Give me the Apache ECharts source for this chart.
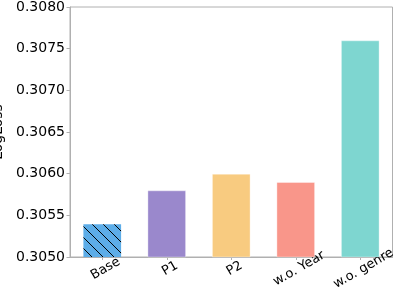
<!DOCTYPE html>
<html>
<head>
<meta charset="utf-8">
<script src="https://cdn.jsdelivr.net/npm/echarts@6/dist/echarts.min.js"></script>
<style>
html,body{margin:0;padding:0;background:#fff;}
#chart{width:395px;height:308px;}
</style>
</head>
<body>
<div id="chart"></div>
<script>
const categories = ['Base', 'P1', 'P2', 'w.o. Year', 'w.o. genre'];
const logLoss = [0.3054, 0.3058, 0.3060, 0.3059, 0.3076];
const barColors = ['#5DADE8', '#9A88CC', '#F8CB80', '#F9968A', '#7ED6D0'];
const yTicks = ['0.3050', '0.3055', '0.3060', '0.3065', '0.3070', '0.3075', '0.3080'];

const font = 'DejaVu Sans';
const fs = 14;

function hatch(base) {
  const s = 11;
  const c = document.createElement('canvas');
  c.width = s; c.height = s;
  const g = c.getContext('2d');
  g.fillStyle = base;
  g.fillRect(0, 0, s, s);
  g.strokeStyle = '#000';
  g.lineWidth = 1;
  g.beginPath();
  g.moveTo(-2, -2); g.lineTo(s + 2, s + 2);
  g.moveTo(-2, s - 2); g.lineTo(2, s + 2);
  g.moveTo(s - 2, -2); g.lineTo(s + 2, 2);
  g.stroke();
  return c;
}

const chart = echarts.init(document.getElementById('chart'), null, {renderer: 'canvas'});
chart.setOption({
  animation: false,
  grid: {left: 70, right: 2.5, top: 7, bottom: 51, show: true, borderColor: '#b0b0b0', borderWidth: 1,
    backgroundColor: 'transparent',
    outerBounds: {left: -300, right: -300, top: -300, bottom: -300}},
  xAxis: {
    type: 'category',
    data: categories,
    axisLine: {lineStyle: {color: '#b0b0b0'}},
    axisTick: {show: true, alignWithLabel: true, length: 3, lineStyle: {color: '#b0b0b0'}},
    axisLabel: {rotate: 30, fontFamily: font, fontSize: 13, color: '#000', margin: 6,
      align: 'center', verticalAlign: 'top', interval: 0}
  },
  yAxis: {
    type: 'value',
    min: 0.3050, max: 0.3080, interval: 0.0005,
    name: 'LogLoss',
    nameLocation: 'middle',
    nameGap: 56,
    nameTextStyle: {fontFamily: font, fontSize: fs, color: '#000'},
    axisLine: {show: true, lineStyle: {color: '#b0b0b0'}},
    axisTick: {show: true, length: 3.5, lineStyle: {color: '#b0b0b0'}},
    splitLine: {show: false},
    axisLabel: {fontFamily: font, fontSize: fs, color: '#000', margin: 5,
      formatter: v => yTicks[Math.round((v - 0.3050) / 0.0005)]}
  },
  series: [{
    type: 'bar',
    barWidth: '60%',
    data: logLoss.map((v, i) => ({
      value: v,
      itemStyle: {
        color: i === 0 ? {image: hatch(barColors[0]), repeat: 'repeat'} : barColors[i],
        borderColor: i === 0 ? 'transparent' : 'rgba(255,255,255,0.35)',
        borderWidth: 1
      }
    }))
  }]
});
</script>
</body>
</html>
